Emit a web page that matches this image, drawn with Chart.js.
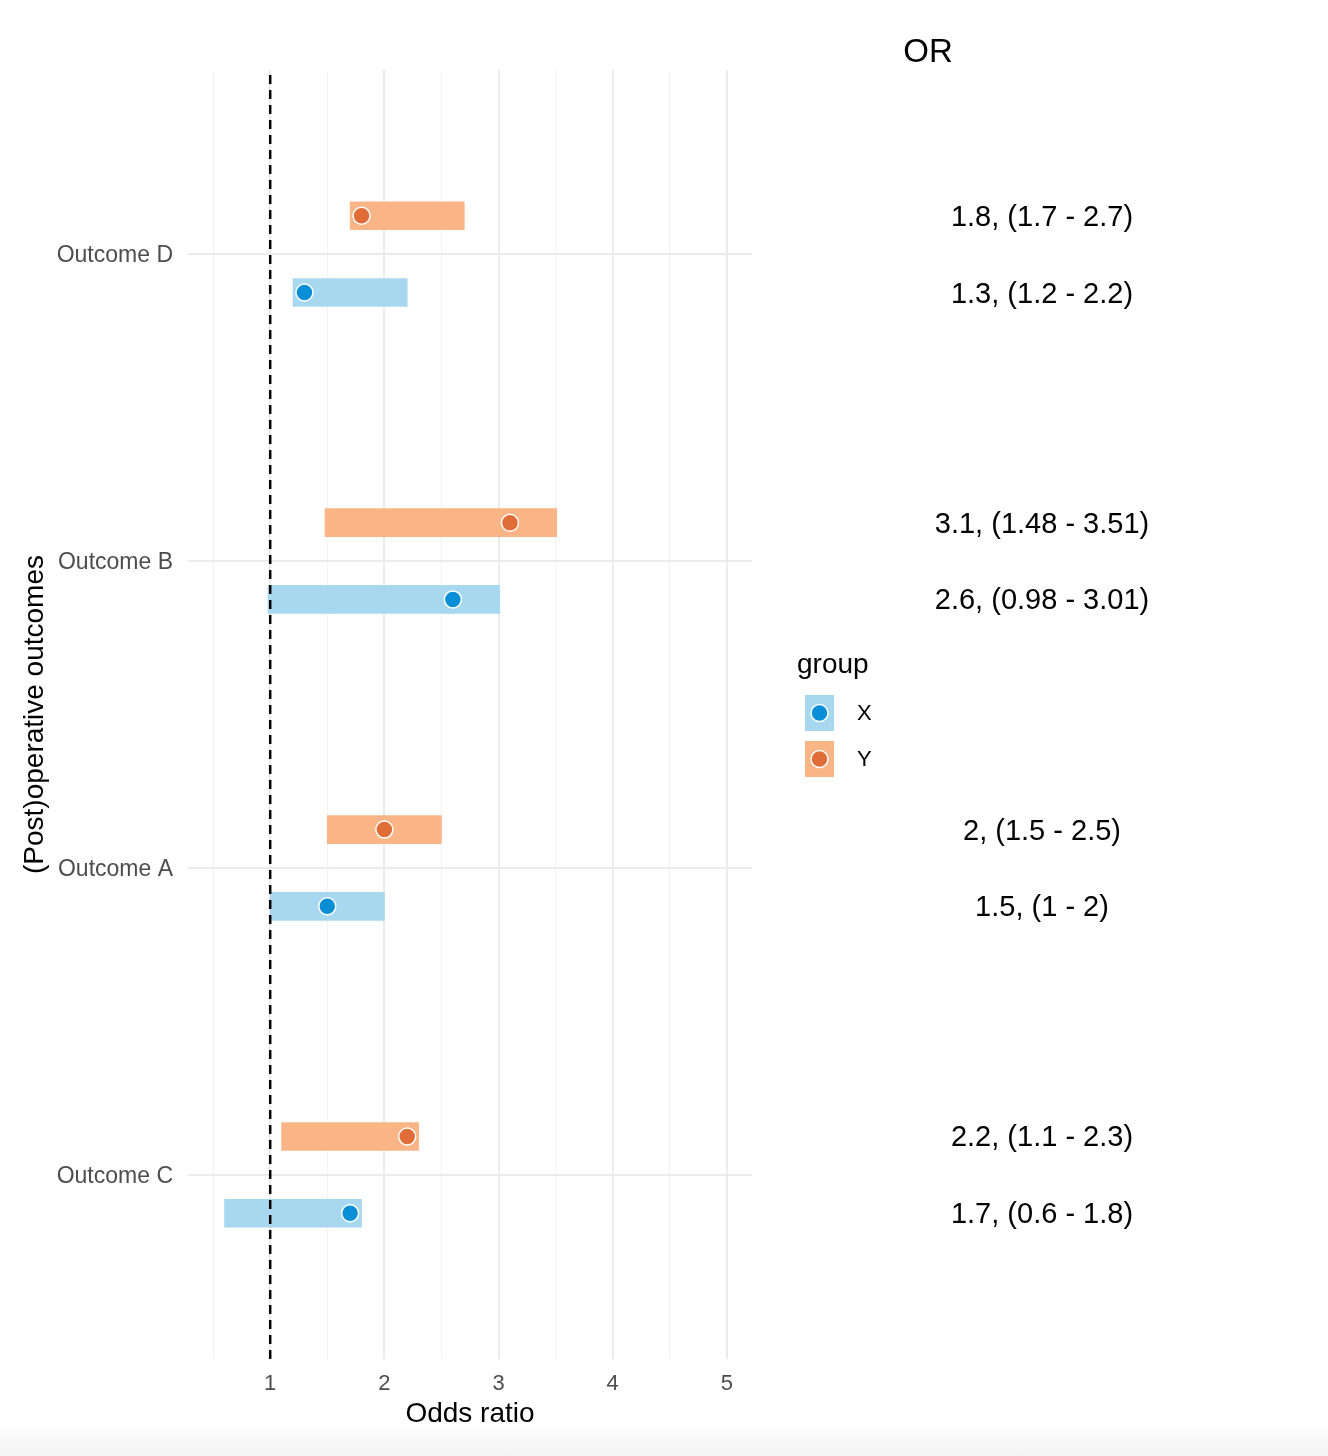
<!DOCTYPE html>
<html>
<head>
<meta charset="utf-8">
<script src="https://cdn.jsdelivr.net/npm/chart.js@4/dist/chart.umd.min.js"></script>
<style>
  html, body { margin: 0; padding: 0; }
  body { width: 1328px; height: 1456px; background: linear-gradient(to bottom, #ffffff 1422px, #f3f3f3 1456px); }
  canvas { display: block; }
</style>
</head>
<body>
<canvas id="forest" width="1328" height="1456"></canvas>
<script>
// categories, bottom to top
const outcomes = ["Outcome C", "Outcome A", "Outcome B", "Outcome D"];
const groups = ["X", "Y"];

// odds ratios + 95% CI per group (same order as outcomes)
const orX = [1.7, 1.5, 2.6, 1.3];
const loX = [0.6, 1, 0.98, 1.2];
const hiX = [1.8, 2, 3.01, 2.2];

const orY = [2.2, 2, 3.1, 1.8];
const loY = [1.1, 1.5, 1.48, 1.7];
const hiY = [2.3, 2.5, 3.51, 2.7];

const xTicks = [0.5, 1, 1.5, 2, 2.5, 3, 3.5, 4, 4.5, 5];
const refLine = 1;

const barCol = { X: "#a7d8f0", Y: "#f9b586" };
const dotCol = { X: "#0a8ed5", Y: "#e06c37" };
const dodge = 0.125;   // vertical shift of the two groups inside a row
const FONT = "'Liberation Sans', Arial, Helvetica, sans-serif";

const rowsX = outcomes.map((o, i) => i - dodge);
const rowsY = outcomes.map((o, i) => i + dodge);

function bars(lo, hi, rows) {
  return rows.map((r, i) => ({ y: r, x: [lo[i], hi[i]] }));
}
function dots(est, rows) {
  return rows.map((r, i) => ({ x: est[i], y: r }));
}

// right-hand OR column + the legend
const sidePanel = {
  id: "sidePanel",
  beforeDraw(chart) {
    const c = chart.ctx;
    c.save();
    c.fillStyle = "#ffffff";
    c.fillRect(0, 0, chart.width, chart.chartArea.bottom + 60);
    c.restore();
  },
  afterDraw(chart) {
    const c = chart.ctx;
    const ys = chart.scales.y;
    c.save();
    c.fillStyle = "#000";
    c.textAlign = "center";
    c.textBaseline = "middle";
    c.font = "33px " + FONT;
    c.fillText("OR", 928, 53);

    c.font = "29px " + FONT;
    outcomes.forEach((o, i) => {
      c.fillText(orY[i] + ", (" + loY[i] + " - " + hiY[i] + ")", 1042, ys.getPixelForValue(rowsY[i]) + 2);
      c.fillText(orX[i] + ", (" + loX[i] + " - " + hiX[i] + ")", 1042, ys.getPixelForValue(rowsX[i]) + 2);
    });

    // legend
    c.textAlign = "left";
    c.font = "28px " + FONT;
    c.fillText("group", 797, 665);
    c.font = "22px " + FONT;
    groups.forEach((g, k) => {
      const cy = 713 + k * 46;
      c.fillStyle = barCol[g];
      c.fillRect(805, cy - 18, 29, 36);
      c.beginPath();
      c.arc(819.5, cy, 8.5, 0, Math.PI * 2);
      c.fillStyle = dotCol[g];
      c.fill();
      c.lineWidth = 1.5;
      c.strokeStyle = "#fff";
      c.stroke();
      c.fillStyle = "#000";
      c.fillText(g, 857, cy + 1);
    });
    c.restore();
  }
};

new Chart(document.getElementById("forest"), {
  type: "scatter",
  data: {
    datasets: [
      { type: "bar", label: "Y", indexAxis: "y", data: bars(loY, hiY, rowsY),
        backgroundColor: barCol.Y, barThickness: 28, grouped: false, order: 3 },
      { type: "bar", label: "X", indexAxis: "y", data: bars(loX, hiX, rowsX),
        backgroundColor: barCol.X, barThickness: 28, grouped: false, order: 3 },
      { label: "ref", data: [{ x: refLine, y: -0.6 }, { x: refLine, y: 3.6 }],
        showLine: true, borderColor: "#000", borderWidth: 2.5, borderDash: [9, 6],
        pointRadius: 0, order: 2 },
      { label: "Y", data: dots(orY, rowsY), backgroundColor: dotCol.Y,
        borderColor: "#fff", borderWidth: 1.5, pointRadius: 8.5, order: 1 },
      { label: "X", data: dots(orX, rowsX), backgroundColor: dotCol.X,
        borderColor: "#fff", borderWidth: 1.5, pointRadius: 8.5, order: 1 }
    ]
  },
  options: {
    responsive: false,
    animation: false,
    layout: { padding: { top: 70, right: 576, bottom: 21, left: 0 } },
    plugins: { legend: { display: false }, tooltip: { enabled: false } },
    scales: {
      x: {
        type: "linear", min: 0.28, max: 5.22,
        afterBuildTicks: s => { s.ticks = xTicks.map(v => ({ value: v })); },
        afterFit: s => { s.height = 76; },
        border: { display: false },
        grid: {
          drawTicks: false,
          color: ctx => Number.isInteger(ctx.tick.value) ? "#ebebeb" : "#f3f3f3",
          lineWidth: ctx => Number.isInteger(ctx.tick.value) ? 2 : 1.2
        },
        ticks: {
          padding: 12, color: "#4d4d4d", font: { family: FONT, size: 22 },
          callback: v => Number.isInteger(v) ? String(v) : ""
        },
        title: { display: true, text: "Odds ratio", color: "#000",
          font: { family: FONT, size: 28 }, padding: { top: 0, bottom: 4 } }
      },
      y: {
        type: "linear", min: -0.6, max: 3.6, offset: false,
        afterBuildTicks: s => { s.ticks = outcomes.map((o, i) => ({ value: i })); },
        afterFit: s => { s.width = 188; },
        border: { display: false },
        grid: { drawTicks: false, offset: false, color: "#ebebeb", lineWidth: 2 },
        ticks: {
          padding: 15, labelOffset: 2, color: "#4d4d4d", font: { family: FONT, size: 23 },
          callback: v => outcomes[v]
        },
        title: { display: true, text: "(Post)operative outcomes", color: "#000",
          font: { family: FONT, size: 28 }, padding: { top: 18, bottom: 0 } }
      }
    }
  },
  plugins: [sidePanel]
});
</script>
</body>
</html>
